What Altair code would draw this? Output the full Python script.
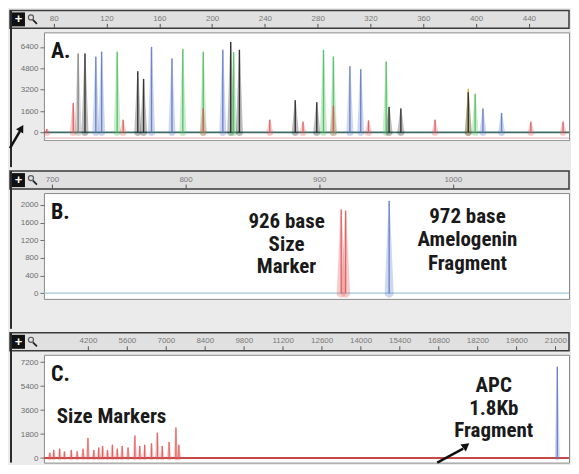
import altair as alt
import pandas as pd

# ---------------- data ----------------
# Panel A: fragment size (bp) of each peak, its height (RFU) and dye colour
A_POS = [74.8, 94.8, 98.5, 103.7, 111.9, 116.3, 128.1, 132.6, 143.7, 148.1,
         154.1, 169.6, 177.8, 193.3, 193.3, 208.1, 214.1, 216.3, 220.7, 243.7,
         263.0, 268.9, 279.3, 284.4, 291.9, 291.9, 304.4, 312.6, 318.5, 331.9,
         334.1, 343.0, 368.9, 394.1, 394.1, 399.3, 405.2, 419.3, 441.5, 465.9]
A_HEIGHT = [250, 2200, 5900, 5900, 5670, 6040, 6040, 950, 4580, 4000,
            6400, 5530, 6250, 6040, 1800, 6180, 6760, 6000, 6180, 950,
            2400, 800, 2250, 6180, 5670, 2000, 4950, 4730, 900, 5300,
            1900, 1800, 950, 3270, 3000, 2900, 1800, 1450, 800, 800]
A_DYE = ["red", "red", "gray", "black", "blue", "blue", "green", "red", "black", "black",
         "blue", "blue", "green", "green", "red", "blue", "black", "green", "black", "red",
         "black", "red", "black", "green", "green", "red", "blue", "blue", "red", "green",
         "black", "black", "red", "yellow", "black", "green", "blue", "blue", "red", "red"]
A_TICKS_X = [80, 120, 160, 200, 240, 280, 320, 360, 400, 440]
A_TICKS_Y = [0, 1600, 3200, 4800, 6400]

# Panel B
B_POS = [916.5, 919.8, 952.4]
B_HEIGHT = [1900, 1870, 2090]
B_DYE = ["red", "red", "blue"]
B_TICKS_X = [700, 800, 900, 1000]
B_TICKS_Y = [0, 400, 800, 1200, 1600, 2000]

# Panel C
C_POS = [2829, 2970, 3181, 3356, 3602, 3813, 4024, 4200, 4411, 4587,
         4727, 4903, 5079, 5254, 5430, 5641, 5887, 6063, 6239, 6485,
         6696, 6871, 7117, 7363, 7469, 21072]
C_HEIGHT = [400, 600, 700, 500, 600, 500, 700, 1500, 600, 800,
            900, 600, 1000, 700, 900, 800, 1700, 900, 1000, 1100,
            1900, 900, 1200, 2300, 1000, 6860]
C_DYE = ["red", "red", "red", "red", "red", "red", "red", "red", "red", "red",
         "red", "red", "red", "red", "red", "red", "red", "red", "red", "red",
         "red", "red", "red", "red", "red", "blue"]
C_TICKS_X = [4200, 5600, 7000, 8400, 9800, 11200, 12600, 14000, 15400,
             16800, 18200, 19600, 21000]
C_TICKS_Y = [0, 1800, 3600, 5400, 7200]

DYES = ["black", "gray", "blue", "green", "red", "yellow"]
DYE_COLORS = ["#262626", "#7d7d7d", "#5f7cc6", "#4fbf5f", "#e05a5a", "#c9b23a"]

# annotation texts, anchored in data coordinates
B_NOTES_L = ["926 base", "Size", "Marker"]
B_NOTES_L_Y = [1485, 962, 460]
B_NOTES_R = ["972 base", "Amelogenin", "Fragment"]
B_NOTES_R_Y = [1594, 1071, 526]
C_NOTES_R = ["APC", "1.8Kb", "Fragment"]
C_NOTES_R_Y = [4937, 3222, 1576]

# ---------------- styling / layout ----------------
W = 526
BG = "#ebebeb"
NOTE_FONT = "'Liberation Sans Narrow', 'Roboto Condensed', 'DejaVu Sans Condensed', 'Liberation Sans', sans-serif"
one = pd.DataFrame({"a": [0]})
dye_color = alt.Color("dye:N", scale=alt.Scale(domain=DYES, range=DYE_COLORS), legend=None)


def panel(pos, height, dye, xdom, ydom, xticks, yticks, H, gap, halo_w,
          label, base_colors, notes, extra):
    pk = pd.DataFrame({"pos": pos, "h": height, "dye": dye})
    tr = pd.DataFrame({
        "id": [i for i in range(len(pos)) for _ in (0, 1)],
        "pos": [p for p in pos for _ in (0, 1)],
        "v": [v for h in height for v in (0, h)],
        "w": [w for _ in pos for w in (halo_w, 1.0)],
        "k": [0, 1] * len(pos),
        "dye": [d for d in dye for _ in (0, 1)],
    })
    xs = alt.Scale(domain=xdom, nice=False, zero=False)
    ys = alt.Scale(domain=ydom, nice=False, zero=False)
    xaxis = alt.Axis(orient="top", values=xticks, offset=5, tickSize=4, format="d",
                     labelFontSize=8, labelColor="#7a7a7a", tickColor="#555",
                     domain=False, grid=False, zindex=1, labelPadding=1,
                     labelOverlap=False, labelFont="Liberation Sans", title=None)
    yaxis = alt.Axis(values=yticks, tickSize=4, format="d", labelFontSize=8,
                     labelColor="#6e6e6e", tickColor="#6e6e6e", domain=False,
                     grid=False, labelPadding=2, labelOverlap=False,
                     labelFont="Liberation Sans", title=None)

    def X(f):
        return alt.X(f, type="quantitative", scale=xs, axis=xaxis)

    def Y(f):
        return alt.Y(f, type="quantitative", scale=ys, axis=yaxis)

    layers = []
    # ruler band + icons + outer frame line
    layers.append(alt.Chart(one).mark_rect(fill="#e0e0e0", stroke="#3a3a3a", strokeWidth=1.5)
                  .encode(x=alt.value(-34), x2=alt.value(W), y=alt.value(-22), y2=alt.value(-4)))
    if gap > 0:
        layers.append(alt.Chart(one).mark_rect(fill=BG)
                      .encode(x=alt.value(-34), x2=alt.value(W), y=alt.value(H + 1), y2=alt.value(H + gap)))
    layers.append(alt.Chart(one).mark_rule(color="#2a2a2a", strokeWidth=2)
                  .encode(x=alt.value(-33), y=alt.value(-22), y2=alt.value(H + gap)))
    layers.append(alt.Chart(one).mark_rect(fill="#111")
                  .encode(x=alt.value(-32), x2=alt.value(-19), y=alt.value(-20), y2=alt.value(-6)))
    layers.append(alt.Chart(one).mark_text(text="+", color="white", fontSize=13, fontWeight="bold")
                  .encode(x=alt.value(-25.5), y=alt.value(-13)))
    layers.append(alt.Chart(one).mark_point(shape="circle", size=26, filled=False, stroke="#222", strokeWidth=1.2)
                  .encode(x=alt.value(-13), y=alt.value(-15)))
    layers.append(alt.Chart(one).mark_rule(color="#222", strokeWidth=1.8)
                  .encode(x=alt.value(-11), y=alt.value(-12.5), x2=alt.value(-7), y2=alt.value(-8.5)))

    # baselines
    for (val, col, sw) in base_colors:
        layers.append(alt.Chart(pd.DataFrame({"z": [val]})).mark_rule(color=col, strokeWidth=sw)
                      .encode(y=Y("z")))

    # peaks: pale halo + dark core
    layers.append(alt.Chart(tr).mark_trail(opacity=0.3).encode(
        x=X("pos"), y=Y("v"), size=alt.Size("w:Q", scale=None, legend=None),
        color=dye_color, detail="id:N", order=alt.Order("k:O")))
    layers.append(alt.Chart(pk.assign(z=0)).mark_rule(strokeWidth=1.4, opacity=0.9).encode(
        x=X("pos"), y=Y("h"), y2="z:Q", color=dye_color))

    # panel letter
    layers.append(alt.Chart(one).mark_text(text=label, fontSize=22, fontWeight="bold", font=NOTE_FONT,
                                           align="left", baseline="alphabetic", color="#151515")
                  .encode(x=alt.value(7), y=alt.value(26)))
    # notes
    for (df, align) in notes:
        layers.append(alt.Chart(df).mark_text(fontSize=21, fontWeight="bold", font=NOTE_FONT, align=align,
                                              baseline="alphabetic", color="#1a1a1a")
                      .encode(x=X("nx"), y=Y("ny"), text="t:N"))
    layers.extend(extra)
    return alt.layer(*layers).properties(width=W, height=H)


# ---------------- panels ----------------
HA, HB, HC = 108, 106, 108

arrow_a = [
    alt.Chart(one).mark_rule(color="#111", strokeWidth=2.5)
    .encode(x=alt.value(-34), y=alt.value(116), x2=alt.value(-24), y2=alt.value(99)),
    alt.Chart(one).mark_point(shape="triangle-up", filled=True, size=70, angle=31, color="#111", opacity=1)
    .encode(x=alt.value(-22.5), y=alt.value(96)),
]
pa = panel(A_POS, A_HEIGHT, A_DYE, [72.6, 470.4], [-580, 7490], A_TICKS_X, A_TICKS_Y,
           HA, 27, 7, "A.", [(0, "#3d6b66", 1.6), (-420, "#e8a8b8", 1.0)], [], arrow_a)

notes_b = [
    (pd.DataFrame({"t": B_NOTES_L, "nx": [875.6] * 3, "ny": B_NOTES_L_Y}), "center"),
    (pd.DataFrame({"t": B_NOTES_R, "nx": [1011.0] * 3, "ny": B_NOTES_R_Y}), "center"),
]
pb = panel(B_POS, B_HEIGHT, B_DYE, [694, 1087], [-130, 2270], B_TICKS_X, B_TICKS_Y,
           HB, 30, 9, "B.", [(0, "#9cc8d8", 1.2)], notes_b, [])

notes_c = [
    (pd.DataFrame({"t": ["Size Markers"], "nx": [3075], "ny": [2605]}), "left"),
    (pd.DataFrame({"t": C_NOTES_R, "nx": [18787] * 3, "ny": C_NOTES_R_Y}), "center"),
]
arrow_c = [
    alt.Chart(one).mark_rule(color="#111", strokeWidth=2.5)
    .encode(x=alt.value(394), y=alt.value(HC), x2=alt.value(420), y2=alt.value(94)),
    alt.Chart(one).mark_point(shape="triangle-up", filled=True, size=80, angle=52, color="#111", opacity=1)
    .encode(x=alt.value(423), y=alt.value(91)),
]
pc = panel(C_POS, C_HEIGHT, C_DYE, [2618, 21492], [-340, 7750], C_TICKS_X, C_TICKS_Y,
           HC, 0, 5, "C.", [(0, "#c84848", 2.0)], notes_c, arrow_c)

chart = (alt.vconcat(pa, pb, pc, spacing=0)
         .properties(background=BG, padding=0)
         .configure_view(stroke="#8a8a8a", strokeWidth=1, fill="white"))

chart.save("out.html", embed_options={"renderer": "svg", "actions": False})
